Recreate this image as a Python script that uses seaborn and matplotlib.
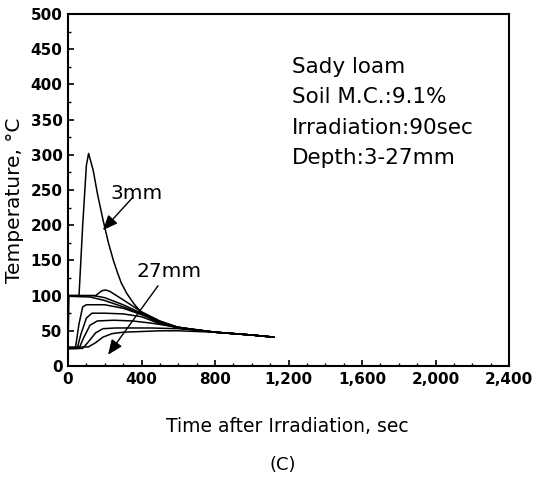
import numpy as np
import pandas as pd
import matplotlib
matplotlib.use("Agg")
import matplotlib.pyplot as plt
import matplotlib.ticker as mticker
import seaborn as sns

# ---- data ----
depths = ["3mm", "6mm", "9mm", "12mm", "15mm", "18mm", "21mm", "24mm", "27mm"]

t_3mm  = [0, 60, 80, 100, 112, 137, 160, 191, 220, 247, 270, 290, 320, 360, 392, 450, 500, 600, 700, 800, 900, 1000, 1120]
T_3mm  = [100, 100, 200, 285, 302, 278, 245, 207, 175, 150, 132, 118, 103, 88, 78, 67, 61, 55, 51, 48, 46, 44, 41]

t_6mm  = [0, 150, 185, 205, 228, 300, 400, 500, 600, 800, 1000, 1120]
T_6mm  = [100, 100, 107, 108, 106, 94, 77, 64, 55, 48, 44, 41]

t_9mm  = [0, 5, 140, 200, 300, 400, 500, 600, 800, 1000, 1120]
T_9mm  = [25, 100, 100, 97, 87, 75, 63, 55, 48, 44, 41]

t_12mm = [0, 120, 200, 300, 400, 500, 600, 800, 1000, 1120]
T_12mm = [99, 98, 93, 84, 74, 62, 54, 48, 44, 41]

t_15mm = [0, 40, 60, 80, 100, 200, 300, 400, 500, 600, 800, 1000, 1120]
T_15mm = [25, 25, 60, 84, 87, 87, 82, 73, 62, 54, 48, 44, 41]

t_18mm = [0, 50, 70, 100, 130, 200, 300, 400, 500, 600, 800, 1000, 1120]
T_18mm = [25, 25, 45, 68, 75, 75, 74, 70, 60, 54, 48, 44, 41]

t_21mm = [0, 60, 85, 120, 160, 250, 350, 450, 550, 650, 800, 1000, 1120]
T_21mm = [25, 25, 40, 58, 64, 65, 64, 61, 57, 53, 48, 44, 41]

t_24mm = [0, 80, 110, 150, 190, 260, 350, 450, 600, 700, 800, 1000, 1120]
T_24mm = [25, 25, 34, 47, 53, 54, 54, 54, 53, 51, 48, 44, 41]

t_27mm = [0, 110, 150, 190, 240, 300, 400, 500, 600, 800, 1000, 1120]
T_27mm = [27, 27, 33, 41, 46, 48, 49, 50, 50, 48, 44, 41]

times = [t_3mm, t_6mm, t_9mm, t_12mm, t_15mm, t_18mm, t_21mm, t_24mm, t_27mm]
temps = [T_3mm, T_6mm, T_9mm, T_12mm, T_15mm, T_18mm, T_21mm, T_24mm, T_27mm]

x_ticks = [0, 400, 800, 1200, 1600, 2000, 2400]
x_tick_labels = ["0", "400", "800", "1,200", "1,600", "2,000", "2,400"]
y_ticks = [0, 50, 100, 150, 200, 250, 300, 350, 400, 450, 500]

info_lines = ["Sady loam", "Soil M.C.:9.1%", "Irradiation:90sec", "Depth:3-27mm"]

rows = []
for d, ts, Ts in zip(depths, times, temps):
    for t, T in zip(ts, Ts):
        rows.append({"depth": d, "time": t, "temp": T})
df = pd.DataFrame(rows)

# ---- plotting ----
sns.set_style("ticks")
plt.rcParams["font.family"] = ["DejaVu Sans"]
plt.rcParams["text.color"] = "black"
plt.rcParams["axes.labelcolor"] = "black"
plt.rcParams["xtick.color"] = "black"
plt.rcParams["ytick.color"] = "black"

fig = plt.figure(figsize=(5.36, 4.83), dpi=100)
ax = fig.add_axes([68 / 536, 1 - 366 / 483, (509 - 68) / 536, (366 - 14) / 483])

sns.lineplot(data=df, x="time", y="temp", hue="depth", hue_order=depths,
             palette=["black"] * len(depths), legend=False, ax=ax,
             linewidth=1.1, sort=False, estimator=None)

ax.set_xlim(0, 2400)
ax.set_ylim(0, 500)
ax.set_xticks(x_ticks)
ax.set_xticklabels(x_tick_labels)
ax.set_yticks(y_ticks)
ax.xaxis.set_minor_locator(mticker.MultipleLocator(100))
ax.yaxis.set_minor_locator(mticker.MultipleLocator(25))
ax.tick_params(which="major", direction="in", length=4, width=1.2,
               labelsize=11, pad=4, colors="black")
ax.tick_params(which="minor", direction="in", length=2.5, width=1.0,
               colors="black")
for lab in ax.get_xticklabels() + ax.get_yticklabels():
    lab.set_fontweight("bold")
for s in ax.spines.values():
    s.set_visible(True)
    s.set_linewidth(1.5)
    s.set_color("black")

ax.set_xlabel("")
ax.set_ylabel("")
fig.text(287 / 536, 1 - 426 / 483, "Time after Irradiation, sec",
         fontsize=13.5, ha="center", va="center", color="black")
fig.text(15 / 536, 1 - 200 / 483, "Temperature, °C", fontsize=14.5,
         ha="center", va="center", rotation=90, color="black")

for i, line in enumerate(info_lines):
    ax.text(1219, 416 - i * 43, line, fontsize=15.5, va="baseline",
            ha="left", color="black")

ax.text(229, 237, "3mm", fontsize=14.5, ha="left", va="baseline", color="black")
ax.text(375, 126, "27mm", fontsize=14.5, ha="left", va="baseline", color="black")
arrow = dict(arrowstyle="-|>,head_length=0.9,head_width=0.38",
             color="black", lw=1.0, shrinkA=0, shrinkB=0)
ax.annotate("", xy=(190, 193), xytext=(354, 240), arrowprops=arrow)
ax.annotate("", xy=(218, 16), xytext=(490, 114), arrowprops=arrow)

fig.text(283 / 536, 1 - 465 / 483, "(C)", fontsize=13, ha="center",
         va="center", color="black")

fig.savefig("out.png", dpi=100)
